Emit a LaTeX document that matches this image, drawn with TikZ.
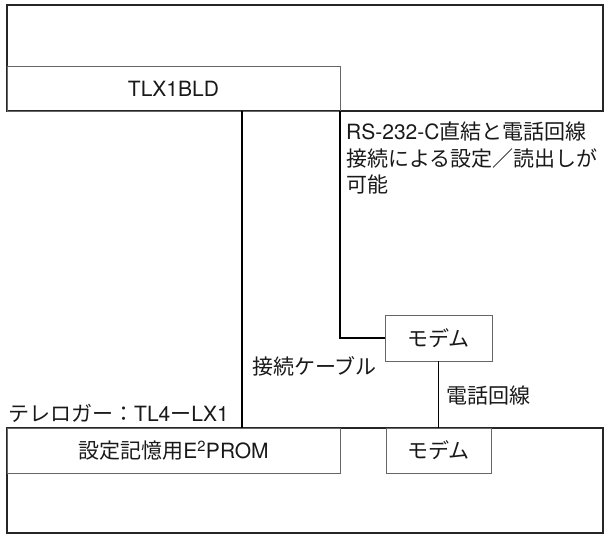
\documentclass[tikz,border=0pt]{standalone}
\usepackage{fontspec}
\setmainfont{Noto Sans CJK JP}
\newfontfamily\latn{TeX Gyre Heros}
\begin{document}
\begin{tikzpicture}[x=1pt,y=-1pt,
  outerbox/.style={draw=black!85,line width=1.3pt,minimum width=#1,inner sep=0pt,outer sep=0pt},
  innerbox/.style={draw=black!60,line width=0.8pt,inner sep=0pt,outer sep=0pt,text=black!90,
     font=\fontsize{21}{24}\selectfont},
  conn/.style={draw=black,line width=1.9pt},
  lbl/.style={inner sep=0pt,text=black!90,font=\fontsize{21}{26.5}\selectfont}]
\useasboundingbox (0,0) rectangle (605,534);
% top device
\node[outerbox=596pt,minimum height=106pt] (dev) at (305,58) {};
\node[innerbox,minimum width=333pt,minimum height=45pt] (tlx) at (173.5,88.5) {\latn TLX1BLD};
% bottom device
\node[outerbox=596pt,minimum height=105pt] (logger) at (305,480.5) {};
\node[innerbox,minimum width=333pt,minimum height=45pt] (e2p) at (173.5,450.5) {設定記憶用{\latn E\textsuperscript{2}PROM}};
\node[innerbox,minimum width=105pt,minimum height=45pt] (modemB) at (438.5,450.5) {モデム};
% upper modem
\node[innerbox,minimum width=107pt,minimum height=46pt,fill=white] (modemA) at (438.5,338) {モデム};
% connectors
\draw[conn] ([xshift=68.5pt]tlx.south) -- ([xshift=68.5pt]tlx.south |- e2p.north);
\draw[conn] (tlx.south east) |- (modemA.west);
\draw[conn] (modemA.south) -- (modemA.south |- modemB.north);
% labels
\node[lbl,anchor=north west,align=left] (rs) at (346,122)
  {{\latn RS-232-C}直結と電話回線\\接続による設定／読出しが\\可能};
\node[lbl,anchor=west] (cable) at (252,366) {接続ケーブル};
\node[lbl,anchor=west] (tel) at (446,396) {電話回線};
\node[lbl,anchor=west] (tl4) at (8,413) {テレロガー：{\latn TL4}ー{\latn LX1}};
\end{tikzpicture}
\end{document}
